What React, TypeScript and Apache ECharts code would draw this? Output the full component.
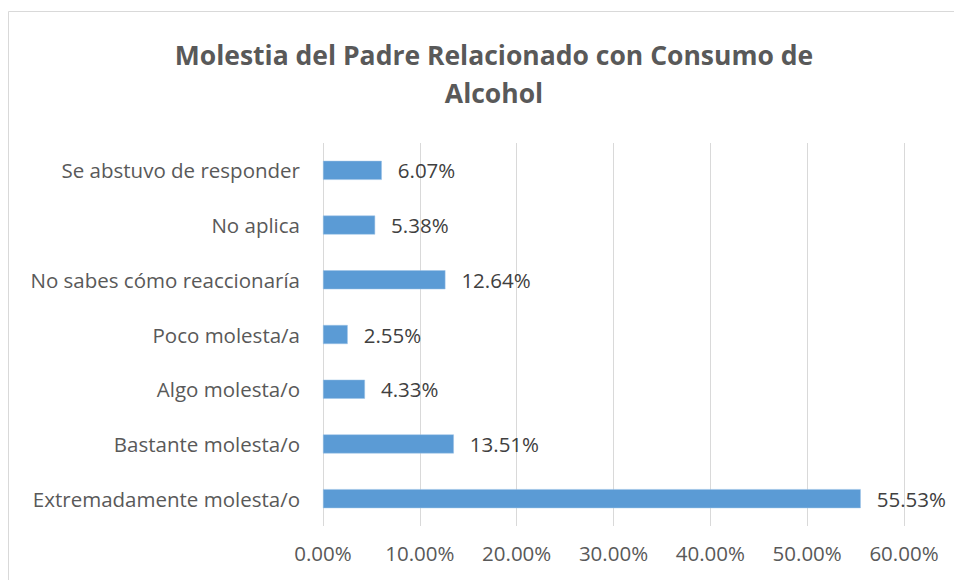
import React, { useEffect, useRef } from "react";
import * as echarts from "echarts";

const categories = [
  "Se abstuvo de responder",
  "No aplica",
  "No sabes cómo reaccionaría",
  "Poco molesta/a",
  "Algo molesta/o",
  "Bastante molesta/o",
  "Extremadamente molesta/o",
];
const values = [6.07, 5.38, 12.64, 2.55, 4.33, 13.51, 55.53];
const titleLines = ["Molestia del Padre Relacionado con Consumo de", "Alcohol"];

const FONT = "'Open Sans', 'Noto Sans', sans-serif";

export default function App() {
  const ref = useRef<HTMLDivElement>(null);
  useEffect(() => {
    document.body.style.margin = "0";
    const chart = echarts.init(ref.current!, null, { renderer: "svg" });
    chart.setOption({
      animation: false,
      backgroundColor: "#ffffff",
      textStyle: { fontFamily: FONT },
      title: {
        text: titleLines.join("\n"),
        left: 489,
        top: 31,
        textAlign: "center",
        textStyle: {
          fontFamily: FONT,
          fontSize: 26.5,
          fontWeight: "bold",
          color: "#595959",
          lineHeight: 38,
        },
      },
      graphic: [
        {
          type: "rect",
          shape: { x: 8.5, y: 11.5, width: 1000, height: 700 },
          style: { fill: "none", stroke: "#D9D9D9", lineWidth: 1 },
          silent: true,
          z: -10,
        },
      ],
      grid: { left: 323, right: 50, top: 143, bottom: 54, containLabel: false },
      xAxis: {
        type: "value",
        min: 0,
        max: 60,
        interval: 10,
        axisLine: { show: false },
        axisTick: { show: false },
        splitLine: { show: true, lineStyle: { color: "#D9D9D9", width: 1 } },
        axisLabel: {
          formatter: (v: number) => v.toFixed(2) + "%",
          fontSize: 20.5,
          color: "#595959",
          fontFamily: FONT,
          margin: 16,
        },
      },
      yAxis: {
        type: "category",
        data: categories,
        inverse: true,
        axisLine: { show: false },
        axisTick: { show: false },
        axisLabel: {
          fontSize: 20.5,
          color: "#595959",
          fontFamily: FONT,
          margin: 23,
        },
      },
      series: [
        {
          type: "bar",
          data: values,
          barWidth: 19,
          itemStyle: { color: "#5B9BD5", borderColor: "#9DC3E6", borderWidth: 0.5 },
          label: {
            show: true,
            position: "right",
            distance: 16,
            formatter: (p: any) => p.value.toFixed(2) + "%",
            fontSize: 20.5,
            color: "#404040",
            fontFamily: FONT,
          },
        },
      ],
    });
    return () => chart.dispose();
  }, []);
  return <div ref={ref} style={{ width: 954, height: 580 }} />;
}
